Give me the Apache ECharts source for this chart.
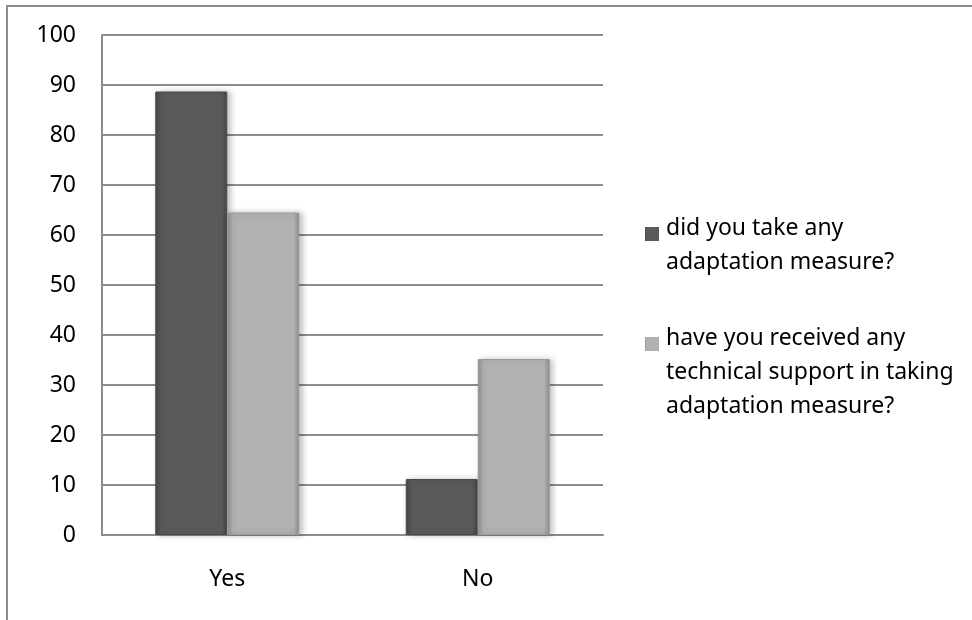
<html>
    <head>
        <meta charset="utf-8">
        <title>adaptation measure</title>
        <style>
            html, body { margin: 0; padding: 0; background: #fff; }
            #main { width: 972px; height: 620px; }
        </style>
    </head>
    <body>
        <div id="main"></div>
        <script type="text/javascript" src="https://cdn.jsdelivr.net/npm/echarts/dist/echarts.min.js"></script>
        <script type="text/javascript">
            var categories = ['Yes', 'No'];
            var seriesNames = ['did you take any\nadaptation measure?', 'have you received any\ntechnical support in taking\nadaptation measure?'];
            var tookMeasure = [88.7, 11.2];
            var gotSupport = [64.5, 35.2];
            var yTicks = [0, 10, 20, 30, 40, 50, 60, 70, 80, 90, 100];

            // bevel look: darker edges, flat middle
            function bevel(edge, mid) {
                return new echarts.graphic.LinearGradient(0, 0, 1, 0, [
                    { offset: 0, color: edge },
                    { offset: 0.08, color: mid },
                    { offset: 0.92, color: mid },
                    { offset: 1, color: edge }
                ]);
            }

            var dom = document.getElementById('main');
            var myChart = echarts.init(dom);
            var font = '"Noto Sans", "DejaVu Sans", sans-serif';
            var fs = 23;
            var lh = 34;

            // icon box as tall as the label, square drawn near its top so it sits
            // by the first line; tiny specks at the corners fix the bounding box
            function iconPath(h) {
                return 'path://M0,16L14,16L14,30L0,30Z' +
                    'M0,0L0.01,0L0,0.01Z' +
                    'M16,' + h + 'L15.99,' + h + 'L16,' + (h - 0.01) + 'Z';
            }

            function legendOpt(idx, top, lines) {
                var h = lines * lh;
                return {
                    orient: 'vertical',
                    left: 645,
                    top: top,
                    padding: 0,
                    itemWidth: 16,
                    itemHeight: h,
                    symbolKeepAspect: true,
                    itemStyle: { borderWidth: 0 },
                    textStyle: { fontSize: fs, color: '#000', lineHeight: lh, fontFamily: font },
                    data: [{ name: seriesNames[idx], icon: iconPath(h) }]
                };
            }

            var option = {
                animation: false,
                textStyle: { fontFamily: font },
                graphic: [
                    {
                        type: 'rect',
                        shape: { x: 7, y: 6, width: 1000, height: 700 },
                        style: { fill: 'none', stroke: '#8c8c8c', lineWidth: 2 }
                    }
                ],
                legend: [
                    legendOpt(0, 211, 2),
                    legendOpt(1, 321, 3)
                ],
                grid: {
                    left: 102,
                    right: 369,
                    top: 35,
                    bottom: 85
                },
                xAxis: {
                    type: 'category',
                    data: categories,
                    axisLine: { lineStyle: { color: '#8c8c8c', width: 2 } },
                    axisTick: { show: false },
                    axisLabel: { fontSize: fs, color: '#000', margin: 33, fontFamily: font }
                },
                yAxis: {
                    type: 'value',
                    min: yTicks[0],
                    max: yTicks[yTicks.length - 1],
                    interval: 10,
                    axisLine: { show: true, lineStyle: { color: '#8c8c8c', width: 2 } },
                    axisTick: { show: false },
                    splitLine: { lineStyle: { color: '#8c8c8c', width: 2 } },
                    axisLabel: { fontSize: fs, color: '#000', margin: 26, fontFamily: font }
                },
                series: [
                    {
                        name: seriesNames[0],
                        type: 'bar',
                        barWidth: 72,
                        barGap: '0%',
                        data: tookMeasure,
                        itemStyle: {
                            color: bevel('#454545', '#5a5a5a'),
                            borderColor: '#4a4a4a',
                            borderWidth: 1,
                            shadowColor: 'rgba(0,0,0,0.25)',
                            shadowBlur: 6,
                            shadowOffsetX: 3
                        }
                    },
                    {
                        name: seriesNames[1],
                        type: 'bar',
                        barWidth: 72,
                        data: gotSupport,
                        itemStyle: {
                            color: bevel('#8e8e8e', '#b1b1b1'),
                            borderColor: '#999',
                            borderWidth: 1,
                            shadowColor: 'rgba(0,0,0,0.25)',
                            shadowBlur: 6,
                            shadowOffsetX: 3
                        }
                    }
                ]
            };
            if (option && typeof option === "object") {
                myChart.setOption(option, true);
            }
        </script>
    </body>
</html>
